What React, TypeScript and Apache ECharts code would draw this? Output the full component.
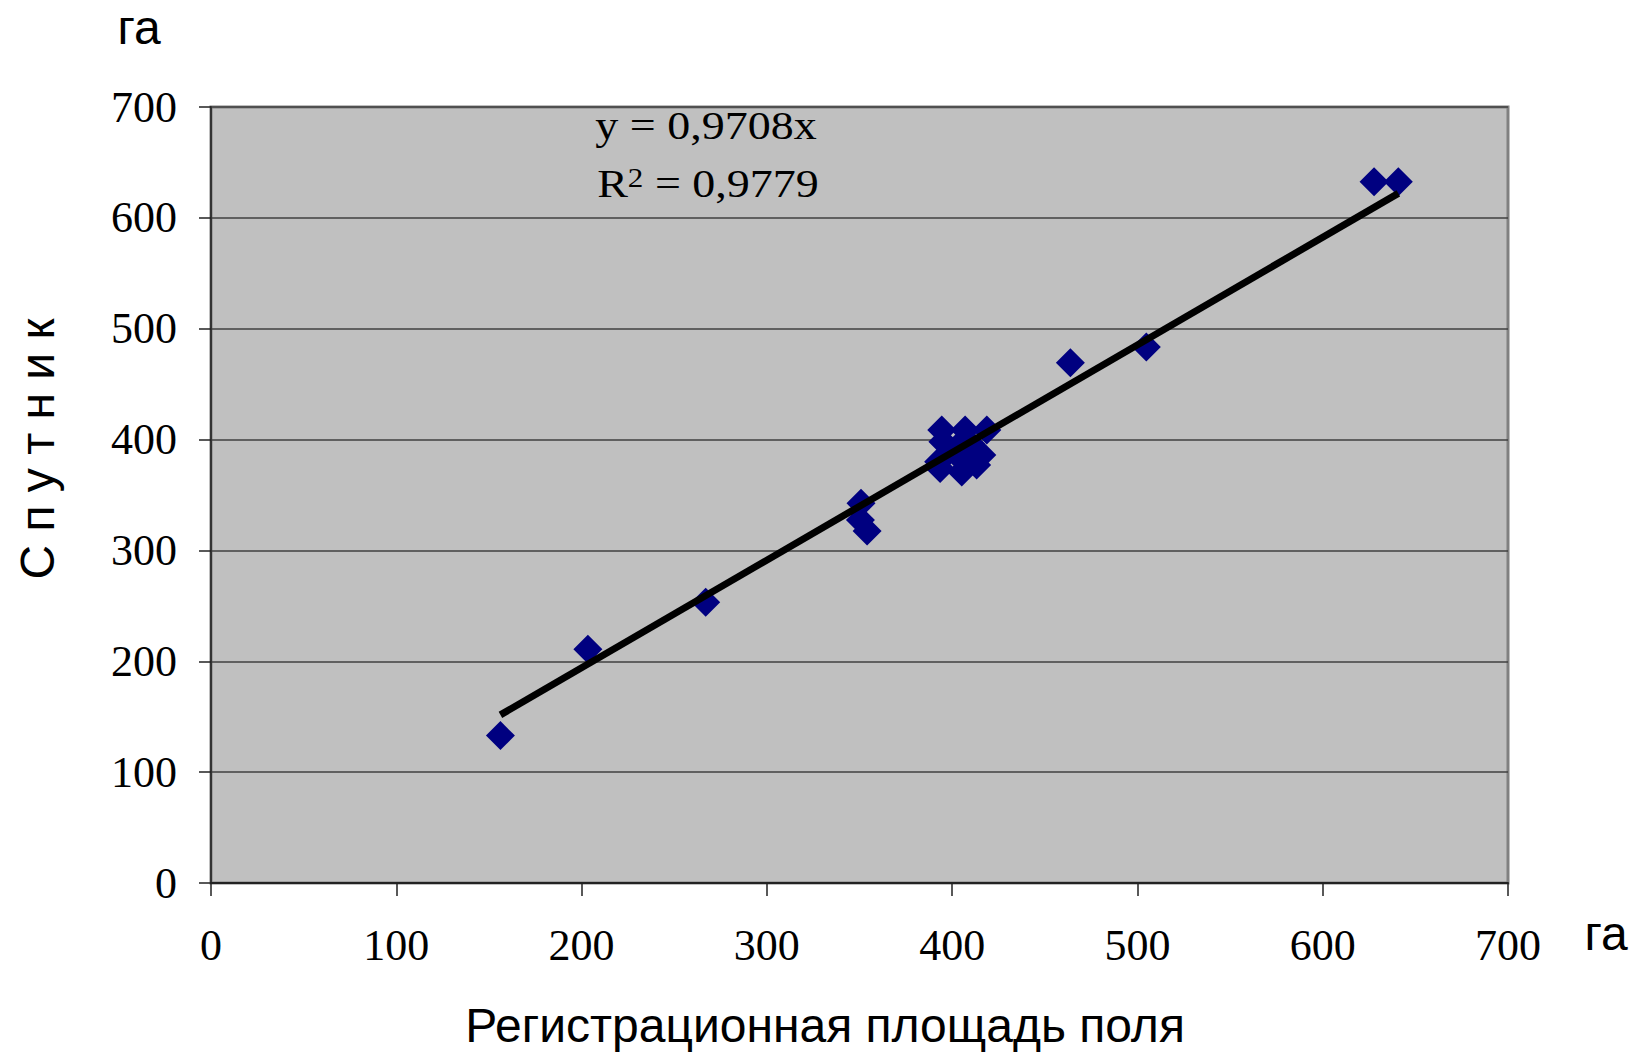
import React, { useEffect, useRef } from "react";
import * as echarts from "echarts";

// Registered field area (x) vs satellite area (y), ha
const xValues = [156.2, 203.4, 267.0, 350.8, 350.5, 354.1, 394.4, 407.0, 418.7, 395.0, 392.7, 393.5, 405.2, 413.2, 416.0, 402.0, 410.0, 404.0, 463.8, 504.8, 627.7, 640.8];
const yValues = [133.0, 210.9, 253.2, 342.5, 327.4, 317.5, 408.6, 408.6, 408.6, 398.0, 380.0, 374.0, 370.7, 377.0, 386.0, 392.0, 396.0, 384.0, 469.3, 483.5, 632.6, 632.6];
const slope = 0.9708;
const r2 = "0,9779";
const axisTicks = [0, 100, 200, 300, 400, 500, 600, 700];

export default function App() {
  const ref = useRef<HTMLDivElement>(null);
  useEffect(() => {
    if (!ref.current) return;
    const chart = echarts.init(ref.current, null, { renderer: "svg" });
    const points = xValues.map((x, i) => [x, yValues[i]]);
    const xmin = Math.min(...xValues);
    const xmax = Math.max(...xValues);
    const trend = [[xmin, slope * xmin], [xmax, slope * xmax]];
    const serif = "'Liberation Serif', 'Times New Roman', serif";
    const sans = "'Liberation Sans', Arial, sans-serif";
    const tickMin = axisTicks[0];
    const tickMax = axisTicks[axisTicks.length - 1];
    const tickStep = axisTicks[1] - axisTicks[0];
    chart.setOption({
      animation: false,
      backgroundColor: "#ffffff",
      grid: {
        left: 211,
        top: 107,
        right: 126,
        bottom: 169,
        show: true,
        backgroundColor: "#c0c0c0",
        borderColor: "#808080",
        borderWidth: 3,
      },
      xAxis: {
        type: "value",
        min: tickMin,
        max: tickMax,
        interval: tickStep,
        axisLine: { show: true, onZero: false, lineStyle: { color: "#222", width: 2 } },
        axisTick: { show: true, length: 13, lineStyle: { color: "#222", width: 1.5 } },
        axisLabel: { fontFamily: serif, fontSize: 44, color: "#000", margin: 40 },
        splitLine: { show: false },
      },
      yAxis: {
        type: "value",
        min: tickMin,
        max: tickMax,
        interval: tickStep,
        axisLine: { show: true, onZero: false, lineStyle: { color: "#333", width: 2 } },
        axisTick: { show: true, length: 12, lineStyle: { color: "#222", width: 1.5 } },
        axisLabel: { fontFamily: serif, fontSize: 44, color: "#000", margin: 34 },
        splitLine: { show: true, lineStyle: { color: "#404040", width: 1.5 } },
      },
      series: [
        {
          type: "scatter",
          data: points,
          symbol: "diamond",
          symbolSize: 29,
          itemStyle: { color: "#000080", opacity: 1 },
          z: 2,
        },
        {
          type: "line",
          data: trend,
          symbol: "none",
          lineStyle: { color: "#000", width: 7 },
          z: 3,
        },
      ],
      graphic: [
        {
          type: "text",
          x: 706,
          y: 126,
          scaleX: 1.15,
          style: {
            text: `y = ${String(slope).replace(".", ",")}x`,
            font: `40px ${serif}`,
            fill: "#000",
            textAlign: "center",
            textVerticalAlign: "middle",
          },
        },
        {
          type: "text",
          x: 708,
          y: 184,
          scaleX: 1.15,
          style: {
            text: `R{sup|2} = ${r2}`,
            font: `40px ${serif}`,
            fill: "#000",
            textAlign: "center",
            textVerticalAlign: "middle",
            rich: {
              sup: { fontSize: 27, fontFamily: serif, verticalAlign: "top", lineHeight: 40 },
            },
          },
        },
        {
          type: "text",
          x: 139,
          y: 27,
          style: {
            text: "га",
            font: `48px ${sans}`,
            fill: "#000",
            textAlign: "center",
            textVerticalAlign: "middle",
          },
        },
        {
          type: "text",
          x: 1606,
          y: 933,
          style: {
            text: "га",
            font: `48px ${sans}`,
            fill: "#000",
            textAlign: "center",
            textVerticalAlign: "middle",
          },
        },
        {
          type: "text",
          x: 825,
          y: 1025,
          style: {
            text: "Регистрационная площадь поля",
            font: `48px ${sans}`,
            fill: "#000",
            textAlign: "center",
            textVerticalAlign: "middle",
          },
        },
        {
          type: "text",
          x: 37,
          y: 449,
          rotation: Math.PI / 2,
          style: {
            text: "С п у т н и к",
            font: `48px ${sans}`,
            fill: "#000",
            textAlign: "center",
            textVerticalAlign: "middle",
          },
        },
      ],
    });
    return () => chart.dispose();
  }, []);
  return (
    <div
      ref={ref}
      style={{ position: "fixed", left: 0, top: 0, width: 1634, height: 1052, background: "#fff" }}
    />
  );
}
